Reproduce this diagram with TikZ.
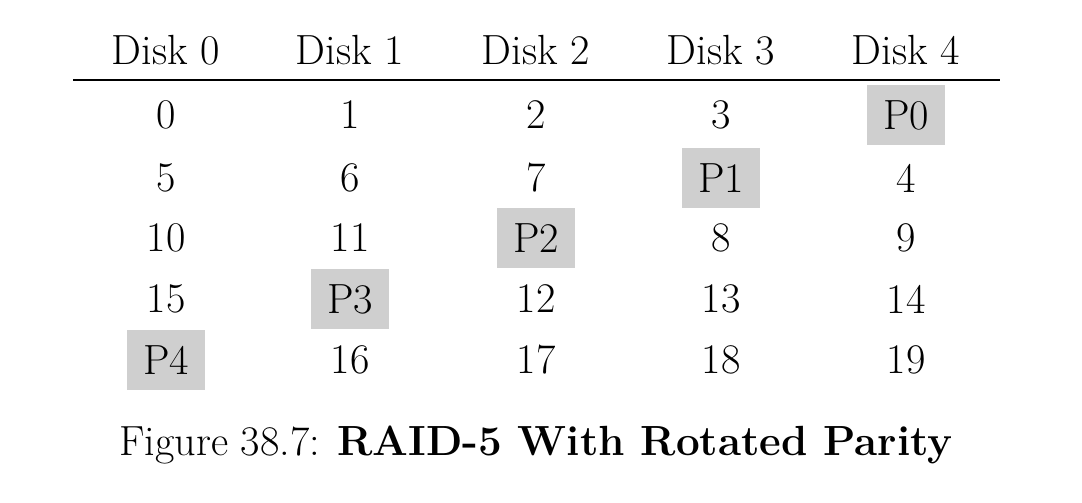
\documentclass[tikz,border=0pt]{standalone}
\usepackage{tikz}
\begin{document}
\begin{tikzpicture}
  [x=0.025cm,y=-0.025cm]
  \tikzset{cell/.style={font=\fontsize{30}{36}\selectfont, minimum width=1.95cm, minimum height=1.5cm, inner sep=0pt},
           parity/.style={cell, fill=black!19}}
  \useasboundingbox (0,0) rectangle (1082,502);
  % header
  \foreach \d/\x in {0/166,1/350,2/536,3/721,4/906}
    \node[cell] (h\d) at (\x,50) {Disk \d};
  \coordinate (l0) at (73,80);
  \coordinate (l1) at (1000,80);
  \draw[line width=1.2pt] (l0) -- (l1);
  % rows
  \node[cell] (c00) at (166,115) {0};
  \node[cell] (c01) at (350,115) {1};
  \node[cell] (c02) at (536,115) {2};
  \node[cell] (c03) at (721,115) {3};
  \node[parity] (c04) at (906,115) {P0};
  \node[cell] (c10) at (166,178) {5};
  \node[cell] (c11) at (350,178) {6};
  \node[cell] (c12) at (536,178) {7};
  \node[parity] (c13) at (721,178) {P1};
  \node[cell] (c14) at (906,178) {4};
  \node[cell] (c20) at (166,238) {10};
  \node[cell] (c21) at (350,238) {11};
  \node[parity] (c22) at (536,238) {P2};
  \node[cell] (c23) at (721,238) {8};
  \node[cell] (c24) at (906,238) {9};
  \node[cell] (c30) at (166,299) {15};
  \node[parity] (c31) at (350,299) {P3};
  \node[cell] (c32) at (536,299) {12};
  \node[cell] (c33) at (721,299) {13};
  \node[cell] (c34) at (906,299) {14};
  \node[parity] (c40) at (166,360) {P4};
  \node[cell] (c41) at (350,360) {16};
  \node[cell] (c42) at (536,360) {17};
  \node[cell] (c43) at (721,360) {18};
  \node[cell] (c44) at (906,360) {19};
  % caption
  \node[font=\fontsize{30}{36}\selectfont] (cap) at (536,445) {Figure 38.7: \textbf{RAID-5 With Rotated Parity}};
\end{tikzpicture}
\end{document}
